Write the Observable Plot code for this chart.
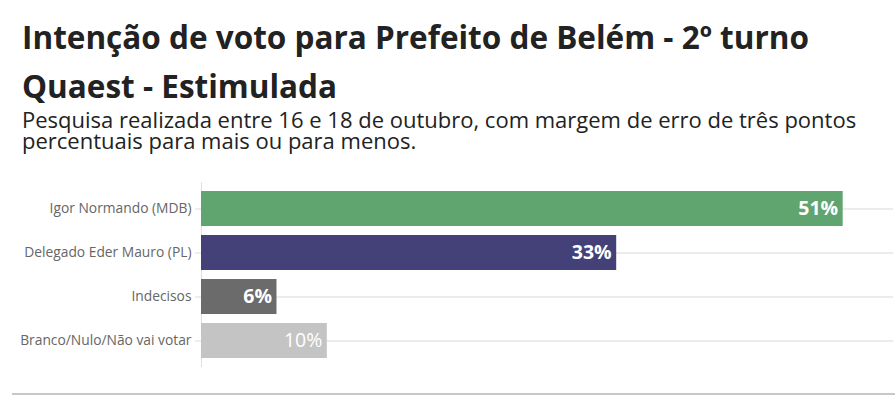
<!DOCTYPE html>
<html>
<head>
<meta charset="utf-8">
<script src="https://cdn.jsdelivr.net/npm/d3@7"></script>
<script src="https://cdn.jsdelivr.net/npm/@observablehq/plot@0.6"></script>
<style>
  body { margin: 0; background: #fff; font-family: "Open Sans", sans-serif; width: 895px; height: 397px; position: relative; overflow: hidden; }
  #title { position: absolute; left: 22px; top: 12px; font-size: 31.5px; font-weight: 700; color: #222; line-height: 49px; white-space: nowrap; }
  #subtitle { position: absolute; left: 22px; top: 109px; font-size: 22px; color: #222; line-height: 21px; white-space: nowrap; }
  #chart { position: absolute; left: 0; top: 175px; }
  #rule { position: absolute; left: 12px; right: 0; top: 393px; border-top: 2px solid #c8c8c8; }
</style>
</head>
<body>
<div id="title">Intenção de voto para Prefeito de Belém - 2º turno<br>Quaest - Estimulada</div>
<div id="subtitle">Pesquisa realizada entre 16 e 18 de outubro, com margem de erro de três pontos<br>percentuais para mais ou para menos.</div>
<div id="chart"></div>
<div id="rule"></div>
<script>
const categories = ["Igor Normando (MDB)", "Delegado Eder Mauro (PL)", "Indecisos", "Branco/Nulo/Não vai votar"];
const values = [51, 33, 6, 10];
const colors = ["#60a46f", "#444178", "#6b6b6b", "#c4c4c4"];
const labelWeights = ["bold", "bold", "bold", "normal"];

const data = categories.map((c, i) => ({name: c, value: values[i], color: colors[i], weight: labelWeights[i]}));

const chart = Plot.plot({
  width: 895,
  height: 195,
  marginLeft: 201,
  marginRight: 2,
  marginTop: 7.2,
  marginBottom: 3,
  style: {fontFamily: "Open Sans, sans-serif", background: "transparent"},
  x: {domain: [0, 55], axis: null},
  y: {domain: categories, padding: 0.2, label: null},
  marks: [
    Plot.gridY({stroke: "#e6e6e6", strokeOpacity: 1, strokeWidth: 1.5}),
    Plot.ruleX([0], {stroke: "#e0e0e0"}),
    Plot.axisY({tickSize: 6, tickPadding: 4, stroke: "#dcdcdc", fill: "#666", fontSize: 13.8, label: null}),
    Plot.barX(data, {x: "value", y: "name", fill: d => d.color}),
    Plot.text(data.filter(d => d.weight === "bold"), {x: "value", y: "name", text: d => d.value + "%", textAnchor: "end", dx: -5, fill: "white", fontSize: 19.5, fontWeight: "bold"}),
    Plot.text(data.filter(d => d.weight !== "bold"), {x: "value", y: "name", text: d => d.value + "%", textAnchor: "end", dx: -5, fill: "white", fontSize: 19.5, fontWeight: "normal"})
  ]
});
document.getElementById("chart").append(chart);
</script>
</body>
</html>
